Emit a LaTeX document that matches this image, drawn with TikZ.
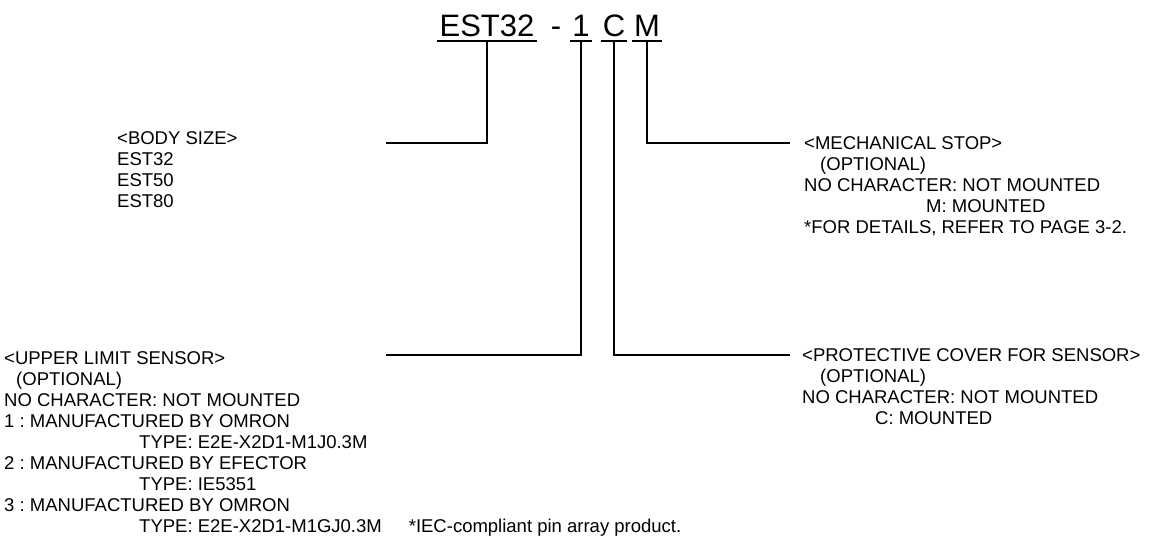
\documentclass[tikz,border=0pt]{standalone}
\usepackage{fontspec}
\setmainfont{Liberation Sans}
\frenchspacing
\usetikzlibrary{calc}

\begin{document}
\begin{tikzpicture}[x=1pt, y=-1pt,
        code/.style={inner sep=0pt, anchor=base, font=\fontsize{31}{31}\selectfont},
        info/.style={inner sep=0pt, anchor=north west, align=left, font=\fontsize{18.5}{21}\selectfont},
        lead/.style={line width=1.7pt}]
        \useasboundingbox (0,0) rectangle (1152,544);

        % Model code
        \node[code] (est) at (487,36) {EST32};
        \node[code] (dash) at (556,36) {-};
        \node[code] (one) at (581,36) {1};
        \node[code] (cee) at (614,36) {C};
        \node[code] (em) at (647,36) {M};
        \foreach \n in {est, one, cee, em}
            \draw[lead] ([shift={(-2pt,-5pt)}]\n.base west) -- ([shift={(2pt,-5pt)}]\n.base east);

        % Free ends of the leaders
        \coordinate (bodyend) at (386,143);
        \coordinate (stopend) at (790,143);
        \coordinate (upperend) at (386,355);
        \coordinate (coverend) at (790,355);

        % Leaders
        \draw[lead] ([yshift=-5pt]est.base) |- (bodyend);
        \draw[lead] ([yshift=-5pt]em.base) |- (stopend);
        \draw[lead] ([yshift=-5pt]one.base) |- (upperend);
        \draw[lead] ([yshift=-5pt]cee.base) |- (coverend);

        % Descriptions
        \node[info] (body) at (117,131) {<BODY SIZE>\\EST32\\EST50\\EST80};
        \node[info] (stop) at (804,136) {<MECHANICAL STOP>\\\hspace*{16pt}(OPTIONAL)\\NO CHARACTER: NOT MOUNTED\\\hspace*{122pt}M: MOUNTED\\*FOR DETAILS, REFER TO PAGE 3-2.};
        \node[info] (upper) at (4,351) {<UPPER LIMIT SENSOR>\\\hspace*{12pt}(OPTIONAL)\\NO CHARACTER: NOT MOUNTED\\1 : MANUFACTURED BY OMRON\\\hspace*{135pt}TYPE: E2E-X2D1-M1J0.3M\\2 : MANUFACTURED BY EFECTOR\\\hspace*{135pt}TYPE: IE5351\\3 : MANUFACTURED BY OMRON\\\hspace*{135pt}TYPE: E2E-X2D1-M1GJ0.3M\hspace{27pt}*IEC-compliant pin array product.};
        \node[info] (cover) at (802,348) {<PROTECTIVE COVER FOR SENSOR>\\\hspace*{18pt}(OPTIONAL)\\NO CHARACTER: NOT MOUNTED\\\hspace*{73pt}C: MOUNTED};
    \end{tikzpicture}
\end{document}
